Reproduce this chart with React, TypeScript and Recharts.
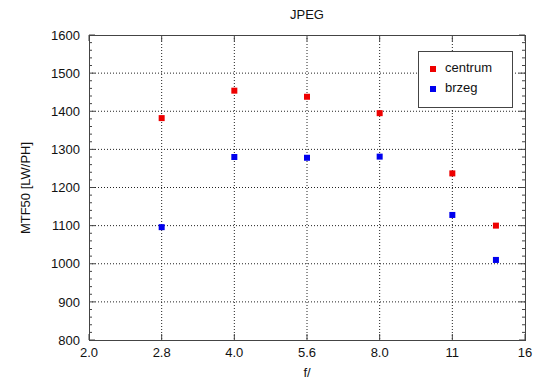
import {
  CartesianGrid,
  Scatter,
  ScatterChart,
  XAxis,
  YAxis,
} from "recharts";

// f-stop positions (in stops from f/2.0) and measured MTF50 values
const xTickLabels = ["2.0", "2.8", "4.0", "5.6", "8.0", "11", "16"];
const xTicks = [0, 1, 2, 3, 4, 5, 6];
const stops = [1, 2, 3, 4, 5, 5.6];
const centrum = [1382, 1454, 1438, 1395, 1237, 1100];
const brzeg = [1096, 1280, 1278, 1281, 1128, 1010];
const yMajor = [800, 900, 1000, 1100, 1200, 1300, 1400, 1500, 1600];

const yAll: number[] = [];
yMajor.forEach((v, i) => {
  yAll.push(v);
  if (i < yMajor.length - 1) [20, 40, 60, 80].forEach(d => yAll.push(v + d));
});

const centrumData = stops.map((x, i) => ({ x, y: centrum[i] }));
const brzegData = stops.map((x, i) => ({ x, y: brzeg[i] }));

const W = 550;
const H = 389;
const PLOT_LEFT = 89;
const PLOT_RIGHT = 525;
const PLOT_TOP = 35;
const PLOT_BOTTOM = 340;
const FONT = "'Liberation Sans', Arial, sans-serif";
const FRAME = "#444";
const RED = "#ee0000";
const BLUE = "#0000ee";

const YTick = ({ y, payload }: any) => {
  const v = payload.value;
  const major = v % 100 === 0;
  const len = major ? 6 : 3;
  return (
    <g>
      <line x1={PLOT_LEFT} x2={PLOT_LEFT + len} y1={y} y2={y} stroke={FRAME} />
      <line x1={PLOT_RIGHT - len} x2={PLOT_RIGHT} y1={y} y2={y} stroke={FRAME} />
      {major && (
        <text
          x={PLOT_LEFT - 9}
          y={y}
          dy="0.36em"
          textAnchor="end"
          fontSize={13}
          fontFamily={FONT}
          fill="#111"
        >
          {v}
        </text>
      )}
    </g>
  );
};

const XTick = ({ x, payload }: any) => {
  const idx = xTicks.indexOf(payload.value);
  return (
    <g>
      <line x1={x} x2={x} y1={PLOT_BOTTOM} y2={PLOT_BOTTOM - 6} stroke={FRAME} />
      <line x1={x} x2={x} y1={PLOT_TOP} y2={PLOT_TOP + 6} stroke={FRAME} />
      <text
        x={x}
        y={PLOT_BOTTOM + 12}
        dy="0.36em"
        textAnchor="middle"
        fontSize={13}
        fontFamily={FONT}
        fill="#111"
      >
        {xTickLabels[idx]}
      </text>
    </g>
  );
};

const square = (color: string) => (p: any) =>
  <rect x={p.cx - 3} y={p.cy - 3} width={6} height={6} fill={color} />;

const legendItems = [
  { name: "centrum", color: RED, top: 17 },
  { name: "brzeg", color: BLUE, top: 37 },
];

const LegendBox = () => (
  <div
    style={{
      position: "absolute",
      left: 418,
      top: 51,
      width: 93,
      height: 55,
      border: `1px solid ${FRAME}`,
      background: "#fff",
      fontSize: 13,
      color: "#111",
    }}
  >
    {legendItems.map(item => (
      <div key={item.name}>
        <div
          style={{
            position: "absolute",
            left: 11,
            top: item.top - 3,
            width: 6,
            height: 6,
            background: item.color,
          }}
        />
        <div
          style={{
            position: "absolute",
            left: 26,
            top: item.top - 9,
            lineHeight: "16px",
          }}
        >
          {item.name}
        </div>
      </div>
    ))}
  </div>
);

export default function App() {
  return (
    <div
      style={{
        position: "absolute",
        left: 0,
        top: 0,
        width: W,
        height: H,
        background: "#fff",
        fontFamily: FONT,
      }}
    >
      <ScatterChart
        width={W}
        height={H}
        margin={{ top: PLOT_TOP, right: W - PLOT_RIGHT, left: PLOT_LEFT - 60, bottom: H - PLOT_BOTTOM - 30 }}
      >
        <CartesianGrid
          stroke="#222"
          strokeDasharray="1 2"
          horizontalValues={[900, 1000, 1100, 1200, 1300, 1400, 1500]}
          verticalValues={[1, 2, 3, 4, 5]}
        />
        <XAxis
          type="number"
          dataKey="x"
          domain={[0, 6]}
          ticks={xTicks}
          interval={0}
          height={30}
          tickLine={false}
          axisLine={false}
          tick={<XTick />}
        />
        <YAxis
          type="number"
          dataKey="y"
          domain={[800, 1600]}
          ticks={yAll}
          interval={0}
          width={60}
          tickLine={false}
          axisLine={false}
          tick={<YTick />}
        />
        <Scatter name="centrum" data={centrumData} fill={RED} shape={square(RED)} isAnimationActive={false} />
        <Scatter name="brzeg" data={brzegData} fill={BLUE} shape={square(BLUE)} isAnimationActive={false} />
      </ScatterChart>
      {/* plot frame */}
      <div
        style={{
          position: "absolute",
          left: PLOT_LEFT - 0.5,
          top: PLOT_TOP - 0.5,
          width: PLOT_RIGHT - PLOT_LEFT - 1,
          height: PLOT_BOTTOM - PLOT_TOP - 1,
          border: `1px solid ${FRAME}`,
          pointerEvents: "none",
        }}
      />
      <LegendBox />
      <div
        style={{
          position: "absolute",
          top: 7,
          left: PLOT_LEFT,
          width: PLOT_RIGHT - PLOT_LEFT,
          textAlign: "center",
          fontSize: 13,
          color: "#111",
        }}
      >
        JPEG
      </div>
      <div
        style={{
          position: "absolute",
          top: 365,
          left: PLOT_LEFT,
          width: PLOT_RIGHT - PLOT_LEFT,
          textAlign: "center",
          fontSize: 13,
          color: "#111",
        }}
      >
        f/
      </div>
      <div
        style={{
          position: "absolute",
          left: 25,
          top: (PLOT_TOP + PLOT_BOTTOM) / 2,
          transform: "translate(-50%, -50%) rotate(-90deg)",
          whiteSpace: "nowrap",
          fontSize: 13,
          color: "#111",
        }}
      >
        MTF50 [LW/PH]
      </div>
    </div>
  );
}
